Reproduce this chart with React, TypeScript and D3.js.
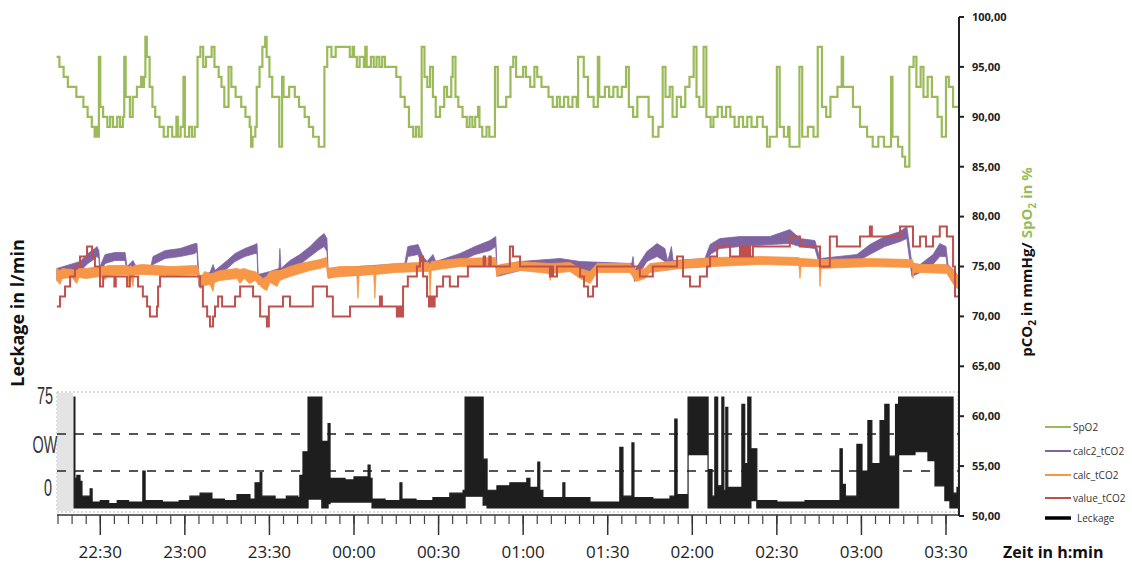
import React from 'react';
import * as d3 from 'd3';

// time values are minutes after 22:00
const spo2: [number, number][] = [
  [14.5, 96], [15.5, 95], [17, 94], [18.5, 93], [21.5, 92], [24, 91], [25.5, 90], [27, 89], [28, 88], [28.5, 89],
  [29, 88], [29.5, 96], [30, 91], [31, 90], [32.5, 89], [33.5, 90], [34.5, 89], [36, 90], [37, 89], [38, 90],
  [38.5, 96], [39, 92], [40.5, 90], [41.5, 92], [43, 93], [44.5, 94], [45, 93], [45.5, 94], [46, 98], [46.5, 96],
  [47.5, 93], [48.5, 91], [49.5, 90], [51, 89], [52.5, 88], [54, 89], [55.5, 88], [57, 90], [57.5, 88], [58.5, 89],
  [59.5, 94], [60, 88], [61.5, 89], [62.5, 88], [63.5, 89], [64.5, 96], [65.5, 97], [66.5, 95], [67.5, 96], [69.5, 97],
  [70.5, 95], [72, 94], [73, 93], [74, 91], [75.5, 95], [76.5, 93], [78, 92], [80, 91], [81.5, 90], [83, 89],
  [83.5, 87], [84, 88], [85, 89], [85.5, 93], [86.5, 95], [87.5, 97], [88.5, 98], [89, 96], [90, 94], [91, 92],
  [93.5, 87], [94.5, 94], [95, 92], [97, 93], [99, 92], [100.5, 91], [102.5, 90], [104, 89], [105.5, 88], [107.5, 87],
  [109.5, 95], [110.5, 97], [112, 96], [113.5, 97], [118.5, 96], [119.5, 97], [120, 96], [121, 95], [122, 96], [123.5, 95],
  [124, 97], [124.5, 95], [126, 96], [127, 95], [128, 96], [129, 95], [130, 96], [131, 95], [135, 94], [136.5, 92],
  [138, 91], [139.5, 89], [141, 88], [142, 89], [143, 88], [144, 97], [145, 94], [146, 93], [147, 95], [148, 92],
  [149, 90], [150.5, 91], [152, 93], [153, 92], [154.5, 94], [155, 96], [156, 92], [157, 91], [158.5, 90], [160, 89],
  [161, 90], [162, 89], [163, 90], [164, 91], [164.5, 89], [165.5, 88], [167, 89], [168, 88], [170, 95], [171, 91],
  [174, 92], [175.5, 95], [176.5, 96], [177.5, 94], [180, 95], [181, 94], [182.5, 93], [184, 95], [185, 94], [186.5, 93],
  [189, 92], [190.5, 91], [192, 92], [193, 91], [194.5, 92], [196, 91], [197.5, 92], [199, 91], [199.5, 96], [201.5, 94],
  [203, 92], [205, 91], [206.5, 96], [207, 92], [209, 93], [210.5, 92], [212, 93], [213.5, 92], [215, 93], [216.5, 95],
  [217.5, 91], [219, 90], [220.5, 92], [223, 92], [224.5, 90], [226, 88], [228, 89], [229.5, 95], [230.5, 92], [232, 93],
  [233, 90], [234.5, 92], [236, 91], [237.5, 93], [239, 94], [240.5, 97], [241.5, 92], [242.5, 91], [244, 97], [245, 90],
  [246.5, 89], [247.5, 90], [249, 91], [250.5, 90], [252, 91], [253.5, 90], [255, 89], [256.5, 90], [258, 89], [259.5, 90],
  [261, 89], [263, 90], [265, 89], [266.5, 87], [267.5, 88], [270, 95], [271, 89], [272.5, 88], [274, 89], [274.5, 87],
  [278, 95], [279, 88], [281, 89], [283, 88], [284.5, 97], [286, 91], [287.5, 90], [289, 92], [291.5, 93], [293, 96],
  [293.5, 93], [297, 91], [299.5, 89], [302, 88], [304, 87], [306, 88], [308, 87], [310.5, 94], [311, 88], [313, 87],
  [314.5, 86], [315.5, 85], [317, 95], [318.5, 96], [319.5, 93], [321, 95], [322, 92], [323.5, 94], [325, 92], [327, 90],
  [328.5, 88], [330, 94], [331, 93], [332.5, 91], [334.3, 91],
];

// [time, low, high] of the noisy traces
const calc2Band: [number, number, number][] = [
  [14.6, 73.6, 74.8], [22.8, 74.5, 75.5], [25.6, 75.3, 76.3], [28.1, 75.8, 76.8], [28.8, 76, 77], [29.5, 75.8, 76.6],
  [29.9, 74.2, 75], [31.7, 75.3, 76.2], [35.2, 75.6, 76.4], [38.8, 75.6, 76.4], [39.5, 74.3, 75], [41.6, 74.8, 75.6],
  [42.7, 74.3, 75], [48, 74.3, 75.1], [48.7, 75.2, 76], [53, 75.8, 76.6], [58.3, 76, 76.8], [63.6, 76.3, 77.3],
  [64.3, 76.5, 77.3], [65, 73, 74], [68.9, 73.5, 74.4], [70, 74.5, 75.2], [70.7, 74, 74.6], [75, 74.8, 75.6],
  [77.8, 75.5, 76.3], [81.3, 76, 76.8], [84.9, 76.3, 77.2], [85.6, 76.3, 77.3], [86, 73.2, 74.2], [90.2, 73.4, 74.5],
  [93.4, 74, 74.8], [93.7, 74, 76.8], [94.1, 74, 74.8], [97.3, 74.6, 75.6], [100.8, 75.2, 76.2], [104.4, 76, 77],
  [107.2, 76.6, 77.8], [109.4, 77, 78.3], [110.4, 76.5, 77.8], [110.8, 74, 74.8], [121, 74.1, 75], [138, 74.6, 75.3],
  [139.1, 76, 77], [142.7, 76.2, 77.2], [144.5, 75, 76], [145.9, 74.8, 75.5], [148, 75.6, 76.2], [149, 74.8, 75.5],
  [157.6, 75.5, 76.3], [162.9, 76.2, 77], [168.2, 76.6, 77.6], [170.3, 77, 78], [170.7, 74, 75], [178.9, 74.6, 75.5],
  [193.1, 75, 75.8], [200.2, 74.5, 75.5], [218.5, 74.5, 75.3], [219, 74.5, 76], [219.5, 73.5, 74.6], [223.9, 75.5, 76.5],
  [227.5, 76, 77.3], [230.3, 75.5, 76.8], [231.3, 74.6, 75.5], [232.6, 75, 77], [233.2, 74.8, 75.6], [244.5, 75, 75.8],
  [246.3, 76.2, 77.2], [249.8, 76.8, 77.8], [256.9, 77, 78], [267.5, 77.2, 78], [274.6, 77.3, 78.7], [278.2, 77, 77.8],
  [283.5, 76.8, 77.6], [285.3, 75, 75.8], [298.4, 75.5, 76.2], [303, 76.2, 77.2], [308.3, 77, 78], [313.7, 77.5, 78.5],
  [316.1, 77.8, 79], [317.9, 74, 75.3], [320.8, 74.4, 75.2], [325.4, 75.2, 76.2], [327.8, 76, 77.3], [330, 76, 77],
  [330.7, 74.3, 75.2], [333.2, 73, 74.5], [334.3, 72.8, 74],
];

const calcBand: [number, number, number][] = [
  [14.6, 73.6, 74.8], [15.7, 73.2, 74.6], [16.5, 73.8, 74.8], [20, 73.9, 74.7], [21.6, 73.3, 74.6], [22.5, 73.9, 74.8],
  [25, 73.8, 74.8], [29.9, 74, 75], [31.7, 73.7, 75], [33, 74.1, 75.1], [39.8, 74.2, 75.1], [40.2, 73.1, 74.9],
  [40.6, 74.2, 75.1], [41.6, 73, 74.9], [42, 74.2, 75.1], [45, 74.2, 75.2], [55, 74.1, 75], [64.5, 74.2, 75.1],
  [65.4, 72.8, 73.8], [67, 73.1, 74.5], [68.9, 73.2, 74.3], [70, 72.5, 74.3], [70.5, 73.4, 74.4], [72.5, 73.6, 74.6],
  [78.5, 73.8, 74.8], [79.5, 73.3, 74.7], [81, 73.8, 74.8], [83, 73.3, 74.6], [84.9, 73.6, 74.5], [87.7, 72.8, 73.8],
  [89, 72.6, 74], [90.2, 73.4, 74.5], [92.7, 73, 74.6], [93.7, 73.6, 74.6], [97.3, 74, 75], [100.8, 74.3, 75.3],
  [104.4, 74.6, 75.5], [107.9, 74.8, 75.7], [110.2, 75, 75.9], [110.8, 73.8, 74.8], [115, 74, 75], [121, 74.1, 75],
  [121.4, 71.8, 75], [121.8, 74.1, 75], [127, 74.2, 75.1], [127.4, 71.8, 75], [127.8, 74.2, 75.1], [134.5, 74.4, 75.3],
  [143.4, 74.5, 75.4], [146.6, 74.5, 75.4], [147, 72, 75], [147.4, 74.6, 75.5], [157.6, 75, 75.8], [170.2, 75, 75.9],
  [170.7, 74, 75], [171.8, 74.2, 75.2], [178.9, 74.6, 75.5], [189.2, 74.3, 75.3], [189.6, 73.6, 75.3], [190, 74.3, 75.3],
  [196.6, 74.5, 75.4], [200.2, 73.8, 74.8], [203.7, 73.3, 74.5], [206.2, 74.4, 75.3], [217.9, 74.4, 75.3], [220, 73.5, 74.6],
  [223.2, 73.8, 74.8], [225, 74.4, 75.3], [235.6, 74.8, 75.6], [247.3, 75, 75.9], [264, 75.2, 76], [277.8, 75.1, 75.9],
  [278.2, 73.8, 75.8], [278.6, 75, 75.8], [285, 75, 75.7], [285.3, 73, 75.5], [285.7, 74.8, 75.7], [303, 75, 75.8],
  [318, 74.9, 75.7], [318.3, 73.8, 75.5], [318.7, 74.4, 75.3], [320.8, 74.4, 75.2], [330.3, 74.3, 75.2], [333.2, 73, 74.5],
  [334.3, 72.8, 74],
];

const valueCO2: [number, number][] = [
  [14.6, 71], [15.7, 72], [17.5, 73], [19.3, 74], [21, 75], [22.8, 76], [25.3, 77], [27.1, 76], [28.1, 75], [29.9, 73],
  [31, 74], [35, 73], [35.5, 74], [39.5, 73], [40.5, 74], [43.4, 73], [45.1, 72], [46.6, 71], [47.6, 70], [50.1, 71],
  [50.5, 73], [51.2, 74], [65.4, 73], [66.4, 71], [67.9, 70], [68.9, 69], [70, 70], [70.7, 71], [71.8, 72], [73.2, 71],
  [77.8, 72], [79.6, 73], [84.2, 72], [86.7, 70], [89.1, 69], [89.8, 71], [94.8, 72], [97.3, 71], [105.4, 73], [110.4, 72],
  [112.5, 70], [118.6, 71], [129.2, 72], [129.9, 71], [135.2, 70], [135.6, 71], [136, 70], [136.4, 71], [136.8, 70], [137.4, 73],
  [139.1, 74], [142.3, 75], [143.4, 76], [144.5, 74], [145.9, 72], [146.6, 71], [147.3, 72], [148, 71], [148.6, 72], [149.4, 73],
  [151.6, 74], [154, 73], [156.9, 74], [160.4, 75], [166, 76], [166.5, 75], [168, 76], [168.5, 75], [175.3, 77], [176.4, 76],
  [178.9, 75], [189.5, 74], [190.2, 75], [190.6, 74], [192, 75], [200.2, 74], [201.6, 73], [203, 72], [204.8, 73], [206.2, 75],
  [221.4, 74], [226, 75], [234.6, 76], [236.7, 74], [239.2, 73], [242.7, 74], [245.2, 75], [246.3, 76], [248.8, 77], [253.4, 76],
  [256.9, 77], [257.5, 76], [258, 77], [258.5, 76], [259, 77], [259.5, 76], [260, 77], [260.5, 76], [261.5, 77], [274.6, 78],
  [278.2, 77], [285.3, 75], [288.8, 78], [291.3, 77], [299.5, 78], [303, 79], [303.7, 78], [313.7, 79], [318.3, 77], [320.8, 78],
  [322.9, 77], [325.4, 78], [327.8, 79], [330.3, 78], [332.5, 75], [333.2, 72], [334.3, 72],
];

// leakage in l/min: [time, low, high]
const leckage: [number, number, number][] = [
  [20.5, 0, 0], [20.7, 0, 75], [21, 0, 20], [21.7, 0, 22], [22.8, 0, 18], [23.5, 0, 8], [26.4, 0, 13], [27.1, 0, 4],
  [30, 0, 5], [33, 0, 3], [36, 0, 5], [40, 0, 4], [45.1, 0, 25], [45.9, 0, 5], [52, 0, 4], [58, 0, 5], [61.8, 0, 8],
  [65.4, 0, 10], [69.6, 0, 6], [74, 0, 5], [78.5, 0, 9], [83.1, 0, 6], [84.9, 0, 17], [86.7, 0, 24], [87.3, 0, 8],
  [92, 0, 6], [96, 0, 8], [100.1, 0, 7], [100.8, 0, 22], [101.9, 0, 38], [103.7, 6, 75], [108.6, 0, 45], [110.8, 3, 57],
  [111.5, 4, 20], [116.8, 4, 19], [120, 4, 21], [125, 4, 29], [125.7, 4, 20], [126.4, 0, 6], [131, 0, 5], [136.3, 0, 17],
  [137, 0, 6], [142, 0, 5], [148, 0, 7], [154, 0, 10], [158.7, 0, 12], [159.4, 8, 75], [165.8, 2, 33], [167.2, 0, 12],
  [170.7, 0, 15], [175.3, 0, 17], [181.3, 0, 20], [182.4, 0, 14], [185.2, 0, 31], [185.9, 0, 12], [187, 0, 7], [194.1, 0, 17],
  [194.8, 0, 7], [203.7, 0, 4], [214.3, 0, 41], [215.4, 0, 8], [218.6, 0, 44], [219.3, 0, 7], [226, 0, 6], [232.1, 0, 8],
  [233.8, 0, 60], [234.6, 0, 9], [238.5, 36, 75], [245.6, 0, 26], [247, 0, 8], [248, 0, 75], [249, 0, 15], [250.5, 0, 75],
  [251.2, 0, 12], [251.9, 0, 68], [252.6, 0, 14], [257.6, 0, 70], [258.6, 0, 30], [259.7, 0, 75], [260.8, 5, 40], [262.9, 0, 5],
  [270, 0, 4], [280, 0, 5], [292.4, 0, 40], [293.2, 0, 16], [294.3, 0, 8], [298.4, 0, 43], [300.2, 0, 25], [302.3, 0, 59],
  [303.7, 0, 30], [306.6, 0, 59], [308.3, 0, 70], [309.8, 0, 35], [312.1, 0, 70], [312.8, 0, 40], [313.2, 36, 75], [319, 38, 75],
  [323.6, 32, 75], [326.1, 15, 75], [329.6, 5, 75], [331.4, 0, 75], [332.5, 0, 10], [333.9, 0, 14], [334.3, 0, 14],
];

const rightTicks = [100, 95, 90, 85, 80, 75, 70, 65, 60, 55, 50];
const majorTimes = [30, 60, 90, 120, 150, 180, 210, 240, 270, 300, 330];
const minorTimes = d3.range(15, 331, 5);
const leakLabels = [
  { text: '75', v: 70 },
  { text: 'OW', v: 37 },
  { text: '0', v: 8 },
];
const legendItems = [
  { name: 'SpO2', color: '#9BBB59' },
  { name: 'calc2_tCO2', color: '#8064A2' },
  { name: 'calc_tCO2', color: '#F79646' },
  { name: 'value_tCO2', color: '#C0504D' },
  { name: 'Leckage', color: '#000000' },
];

const fmt = (m: number) => {
  const h = (22 + Math.floor(m / 60)) % 24;
  const mm = m % 60;
  return `${String(h).padStart(2, '0')}:${String(mm).padStart(2, '0')}`;
};

export default function App() {
  const x = d3.scaleLinear().domain([15, 330]).range([58, 946]);
  const y = d3.scaleLinear().domain([50, 100]).range([516, 17]);
  const yL = d3.scaleLinear().domain([0, 75]).range([508, 397]);

  const stepLine = d3.line<[number, number]>()
    .x(d => x(d[0])).y(d => y(d[1])).curve(d3.curveStepAfter);
  const band = d3.area<[number, number, number]>()
    .x(d => x(d[0])).y0(d => y(d[1])).y1(d => y(d[2]));
  const leakArea = d3.area<[number, number, number]>()
    .x(d => x(d[0])).y0(d => yL(d[1])).y1(d => yL(d[2])).curve(d3.curveStepAfter);

  const font = "'Open Sans', 'Liberation Sans', sans-serif";
  const panelL = 57, panelR = 958;

  return (
    <svg width={1132} height={569} style={{ position: 'absolute', left: 0, top: 0, background: '#fff' }}
      fontFamily={font}>
      {/* leakage panel */}
      <rect x={panelL} y={392} width={panelR - panelL} height={120} fill="#fff" stroke="#bbb"
        strokeDasharray="2,2" />
      <rect x={panelL} y={393} width={16} height={118} fill="#e4e4e4" />
      {[25, 50].map(v => (
        <line key={v} x1={panelL} x2={panelR} y1={yL(v)} y2={yL(v)} stroke="#555" strokeWidth={2}
          strokeDasharray="9,9" />
      ))}
      <path d={leakArea(leckage) ?? ''} fill="#1e1e1e" stroke="#1e1e1e" strokeWidth={1.2} />
      {leakLabels.map(l => (
        <text key={l.text} transform={`translate(${l.text === '0' ? 48 : 45},${yL(l.v)}) scale(0.6,1)`}
          textAnchor="middle" fontSize={24} fill="#333" fontFamily="'Liberation Sans', sans-serif">{l.text}</text>
      ))}

      {/* CO2 traces */}
      <path d={band(calc2Band) ?? ''} fill="#8064A2" stroke="#8064A2" strokeWidth={0.8} />
      <path d={band(calcBand) ?? ''} fill="#F79646" stroke="#F79646" strokeWidth={0.8} />
      <path d={stepLine(valueCO2) ?? ''} fill="none" stroke="#C0504D" strokeWidth={2} />
      {/* SpO2 */}
      <path d={stepLine(spo2) ?? ''} fill="none" stroke="#9BBB59" strokeWidth={2.2} />

      {/* right axis */}
      <line x1={959} x2={959} y1={y(100)} y2={y(50)} stroke="#222" strokeWidth={2} />
      {rightTicks.map(t => (
        <g key={t}>
          <line x1={959} x2={964} y1={y(t)} y2={y(t)} stroke="#222" strokeWidth={2} />
          <text x={972} y={y(t)} dy="0.35em" fontSize={11} fontWeight="bold" fill="#222">
            {t.toFixed(2).replace('.', ',')}
          </text>
        </g>
      ))}
      <text transform="translate(1032,262) rotate(-90)" textAnchor="middle" fontSize={15} fontWeight="bold">
        <tspan fill="#111">pCO</tspan>
        <tspan fill="#111" fontSize={10} dy={4}>2</tspan>
        <tspan fill="#111" dy={-4}> in mmHg/ </tspan>
        <tspan fill="#9BBB59">SpO</tspan>
        <tspan fill="#9BBB59" fontSize={10} dy={4}>2</tspan>
        <tspan fill="#9BBB59" dy={-4}> in %</tspan>
      </text>

      {/* left title */}
      <text transform="translate(24,313) rotate(-90)" textAnchor="middle" fontSize={18} fontWeight="bold"
        fill="#111">Leckage in l/min</text>

      {/* bottom axis */}
      <line x1={panelL} x2={panelR} y1={515} y2={515} stroke="#333" strokeWidth={1.5} />
      {minorTimes.map(t => (
        <line key={'m' + t} x1={x(t)} x2={x(t)} y1={515} y2={524} stroke="#444" strokeWidth={1.2} />
      ))}
      {majorTimes.map(t => (
        <g key={t}>
          <line x1={x(t)} x2={x(t)} y1={515} y2={535} stroke="#333" strokeWidth={1.5} />
          <text x={x(t)} y={558} textAnchor="middle" fontSize={17} fill="#222">{fmt(t)}</text>
        </g>
      ))}
      <text x={1003} y={558} fontSize={16} fontWeight="bold" fill="#111">Zeit in h:min</text>

      {/* legend */}
      {legendItems.map((l, i) => {
        const ly = [427, 451, 475, 498, 518][i];
        const isLeak = l.name === 'Leckage';
        return (
          <g key={l.name}>
            <line x1={1045} x2={1071} y1={ly} y2={ly} stroke={l.color} strokeWidth={isLeak ? 3.5 : 2} />
            <text x={isLeak ? 1077 : 1073} y={ly} dy="0.35em" fontSize={10} fill="#333">{l.name}</text>
          </g>
        );
      })}
    </svg>
  );
}
